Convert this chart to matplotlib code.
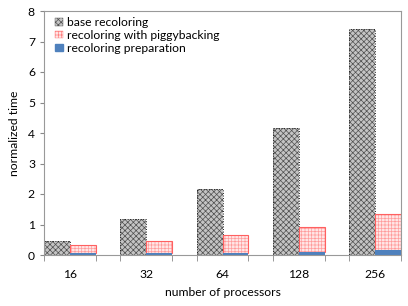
import numpy as np
import matplotlib.pyplot as plt
from matplotlib.patches import Patch

plt.rcParams['font.family'] = ['Lato', 'DejaVu Sans']
plt.rcParams['hatch.linewidth'] = 0.5

processors = ['16', '32', '64', '128', '256']
base = [0.47, 1.19, 2.17, 4.17, 7.41]
piggyback = [0.34, 0.47, 0.67, 0.93, 1.34]   # total height incl. preparation
preparation = [0.07, 0.07, 0.07, 0.10, 0.17]

x = np.arange(len(processors))
w = 0.34

fig = plt.figure(figsize=(4.08, 3.06), dpi=100)
ax = fig.add_axes([44/408, 1 - 255/306, 357/408, 244/306])

# base recoloring: dark checker pattern with dotted outline
ax.bar(x - w/2, base, w, facecolor='#c4c4c4', edgecolor='#505050',
       hatch='xxxxxx', linewidth=0)
ax.bar(x - w/2, base, w, fill=False, edgecolor='#222222',
       linewidth=0.7, linestyle=':')

# piggybacking: light pink dotted pattern with red outline
pig_top = [p - q for p, q in zip(piggyback, preparation)]
ax.bar(x + w/2, pig_top, w, bottom=preparation, facecolor='#ffe6e6',
       edgecolor='#ff9c9c', hatch='+++++', linewidth=0)
ax.bar(x + w/2, pig_top, w, bottom=preparation, fill=False,
       edgecolor='#ff6060', linewidth=0.8)
ax.bar(x + w/2, preparation, w, color='#4f81bd', linewidth=0)

ax.set_xlim(-w, len(x) - 1 + 0.32)
ax.set_ylim(0, 8)
ax.set_xticks(x)
ax.set_xticklabels(processors, fontsize=8.7)
ax.set_xticks(np.concatenate([x - w, x + w]), minor=True)
ax.tick_params(axis='x', which='major', length=0, pad=10)
ax.tick_params(axis='x', which='minor', length=4, color='#888888')
ax.tick_params(axis='y', labelsize=8.7, length=3, color='#888888')
ax.set_yticks(range(9))
for s in ax.spines.values():
    s.set_color('#999999')
    s.set_linewidth(0.8)

ax.set_xlabel('number of processors', fontsize=8.7, labelpad=5)
ax.set_ylabel('normalized time', fontsize=8.7, labelpad=6)

handles = [
    Patch(facecolor='#c4c4c4', edgecolor='#505050', hatch='xxxxxx', linewidth=0.3),
    Patch(facecolor='#ffe6e6', edgecolor='#ff8080', hatch='+++++', linewidth=0.3),
    Patch(facecolor='#4f81bd', edgecolor='#4f81bd'),
]
ax.legend(handles, ['base recoloring', 'recoloring with piggybacking',
                    'recoloring preparation'],
          loc='upper left', frameon=False, fontsize=8.7,
          handlelength=0.6, handleheight=0.6, handletextpad=0.4,
          labelspacing=0.15, borderaxespad=0.1, bbox_to_anchor=(0.015, 1.0))

fig.savefig('out.png', dpi=100)
